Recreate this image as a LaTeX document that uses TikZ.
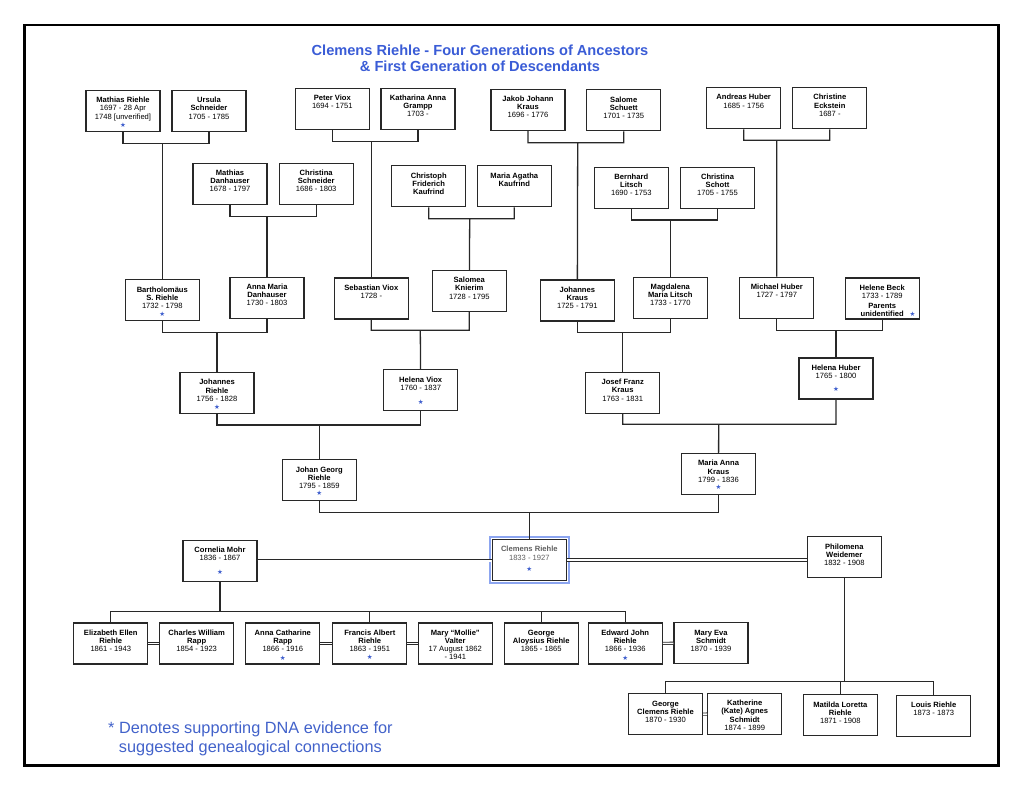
\documentclass[tikz,border=0pt]{standalone}
\usepackage{fontspec}
\setmainfont{Liberation Sans}
\newfontfamily\starfont{DejaVu Sans}
\definecolor{linec}{RGB}{40,40,40}
\definecolor{titleblue}{RGB}{58,92,214}
\definecolor{noteblue}{RGB}{66,98,202}
\definecolor{dnablue}{RGB}{62,94,205}
\definecolor{ringblue}{RGB}{140,165,240}
\definecolor{clemgray}{RGB}{95,95,95}
\newcommand\dna{{\starfont\fontsize{6.5}{6.5}\selectfont\textcolor{dnablue}{★}}}
\newcommand\who[1]{\parbox[c][41pt][t]{74pt}{\centering\rule{0pt}{12.3pt}#1}}
\begin{document}
\begin{tikzpicture}[x=1pt,y=-1pt,
  pbox/.style={draw=linec,line width=1.2pt,inner sep=0pt,font=\fontsize{7.6}{8.2}\selectfont},
  link/.style={draw=linec,line width=1.3pt},
  wed/.style={draw=linec,line width=0.9pt,double=white,double distance=1.4pt}]
  \useasboundingbox (0,0) rectangle (1024,791);
  \draw[line width=2.7pt] (24.7,25) rectangle (998.5,765.5);
  \node[anchor=north,inner sep=0pt,align=center,text=titleblue,font=\fontsize{14.6}{15.7}\selectfont\bfseries] (title) at (480,44.6)
    {Clemens Riehle - Four Generations of Ancestors\\\& First Generation of Descendants};

  \node[pbox] (mr) at (123,111) {\who{\textbf{Mathias Riehle}\\1697 - 28 Apr\\1748 [unverified]\\\dna}};
  \node[pbox] (us) at (209,111) {\who{\textbf{Ursula\\Schneider}\\1705 - 1785}};
  \node[pbox] (pv) at (332.3,108.7) {\who{\textbf{Peter Viox}\\1694 - 1751}};
  \node[pbox] (kg) at (418,108.7) {\who{\textbf{Katharina Anna\\Grampp}\\1703 -}};
  \node[pbox] (jk) at (528,109.7) {\who{\textbf{Jakob Johann\\Kraus}\\1696 - 1776}};
  \node[pbox] (ss) at (623.7,110.3) {\who{\textbf{Salome\\Schuett}\\1701 - 1735}};
  \node[pbox] (ah) at (743.7,108.2) {\who{\textbf{Andreas Huber}\\1685 - 1756}};
  \node[pbox] (ce) at (829.8,108.2) {\who{\textbf{Christine\\Eckstein}\\1687 -}};

  \node[pbox] (md) at (230,183.8) {\who{\textbf{Mathias\\Danhauser}\\1678 - 1797}};
  \node[pbox] (cs) at (316.2,183.8) {\who{\textbf{Christina\\Schneider}\\1686 - 1803}};
  \node[pbox] (ck) at (428.7,186.3) {\who{\textbf{Christoph\\Friderich\\Kaufrind}}};
  \node[pbox] (mk) at (514.3,186.3) {\who{\textbf{Maria Agatha\\Kaufrind}}};
  \node[pbox] (bl) at (631.3,187.7) {\who{\textbf{Bernhard\\Litsch}\\1690 - 1753}};
  \node[pbox] (cst) at (717.5,187.7) {\who{\textbf{Christina\\Schott}\\1705 - 1755}};

  \node[pbox] (bsr) at (162.3,300.2) {\who{\textbf{Bartholomäus\\S. Riehle}\\1732 - 1798\\\dna}};
  \node[pbox] (amd) at (267,297.7) {\who{\textbf{Anna Maria\\Danhauser}\\1730 - 1803}};
  \node[pbox] (sv) at (371.3,298.5) {\who{\textbf{Sebastian Viox}\\1728 -}};
  \node[pbox] (sk) at (469.3,291) {\who{\textbf{Salomea\\Knierim}\\1728 - 1795}};
  \node[pbox] (jok) at (577.3,300.5) {\who{\textbf{Johannes\\Kraus}\\1725 - 1791}};
  \node[pbox] (mml) at (670.3,297.7) {\who{\textbf{Magdalena\\Maria Litsch}\\1733 - 1770}};
  \node[pbox] (mh) at (776.8,297.7) {\who{\textbf{Michael Huber}\\1727 - 1797}};
  \node[pbox] (hb) at (882.2,298.5) {\who{\textbf{Helene Beck}\\1733 - 1789\\[1.5pt]\textbf{Parents\\unidentified}\rlap{\hspace{6pt}\dna}}};

  \node[pbox] (jr) at (217,393) {\who{\textbf{Johannes\\Riehle}\\1756 - 1828\\\dna}};
  \node[pbox] (hv) at (420.7,390.2) {\who{\textbf{Helena Viox}\\1760 - 1837\\[5.8pt]\dna}};
  \node[pbox] (jfk) at (622.7,392.8) {\who{\textbf{Josef Franz\\Kraus}\\1763 - 1831}};
  \node[pbox] (hh) at (836,378.5) {\who{\textbf{Helena Huber}\\1765 - 1800\\[5.2pt]\dna}};

  \node[pbox] (jgr) at (319.3,480.3) {\who{\textbf{Johan Georg\\Riehle}\\1795 - 1859\\[-1.5pt]\dna}};
  \node[pbox] (mak) at (718.5,474) {\who{\textbf{Maria Anna\\Kraus}\\1799 - 1836\\[-0.6pt]\dna}};

  \node[pbox] (cm) at (220,560.8) {\who{\textbf{Cornelia Mohr}\\1836 - 1867\\[5.8pt]\dna}};
  \node[pbox,text=clemgray] (cr) at (529.3,560) {\who{\textbf{Clemens Riehle}\\1833 - 1927\\[3pt]\dna}};
  \node[pbox] (pw) at (844.3,557.2) {\who{\textbf{Philomena\\Weidemer}\\1832 - 1908}};
  \draw[ringblue,line width=1.6pt] ([shift={(-1.8,-1.8)}]cr.north west) rectangle ([shift={(1.8,1.8)}]cr.south east);

  \node[pbox] (eer) at (110.8,643.5) {\who{\textbf{Elizabeth Ellen\\Riehle}\\1861 - 1943}};
  \node[pbox] (cwr) at (196.7,643.5) {\who{\textbf{Charles William\\Rapp}\\1854 - 1923}};
  \node[pbox] (acr) at (282.8,643.5) {\who{\textbf{Anna Catharine\\Rapp}\\1866 - 1916\\[1pt]\dna}};
  \node[pbox] (far) at (369.8,643.5) {\who{\textbf{Francis Albert\\Riehle}\\1863 - 1951\\\dna}};
  \node[pbox] (mmv) at (455.3,643.5) {\who{\textbf{Mary “Mollie”\\Valter}\\17 August 1862\\- 1941}};
  \node[pbox] (gar) at (541.2,643.5) {\who{\textbf{George\\Aloysius Riehle}\\1865 - 1865}};
  \node[pbox] (ejr) at (625.2,643.5) {\who{\textbf{Edward John\\Riehle}\\1866 - 1936\\[1pt]\dna}};
  \node[pbox] (mes) at (711,643.2) {\who{\textbf{Mary Eva\\Schmidt}\\1870 - 1939}};

  \node[pbox] (gcr) at (665.5,714.3) {\who{\textbf{George\\Clemens Riehle}\\1870 - 1930}};
  \node[pbox] (kas) at (744.7,713.9) {\who{\textbf{Katherine\\(Kate) Agnes\\Schmidt}\\1874 - 1899}};
  \node[pbox] (mlr) at (840.3,715.3) {\who{\textbf{Matilda Loretta\\Riehle}\\1871 - 1908}};
  \node[pbox] (lr) at (933.7,715.7) {\who{\textbf{Louis Riehle}\\1873 - 1873}};

  \coordinate (j1) at (162.3,143.3);
  \coordinate (j2) at (371.3,141.3);
  \coordinate (j3) at (577.7,142.7);
  \coordinate (j4) at (776.7,140.3);
  \coordinate (j5) at (267,216.3);
  \coordinate (j6) at (469.7,218.7);
  \coordinate (j7) at (670.3,220);
  \coordinate (j8) at (217,332.3);
  \coordinate (j9) at (420.3,330.3);
  \coordinate (j10) at (622.7,332.7);
  \coordinate (j11) at (836,330.3);
  \coordinate (j12) at (319.3,425);
  \coordinate (j13) at (718.7,424.3);
  \coordinate (j14) at (529.3,512.3);
  \coordinate (k1) at (220,611.3);
  \coordinate (k2) at (844.3,681.7);

  \draw[link] (mr) |- (j1) -| (us) (j1) -- (bsr);
  \draw[link] (pv) |- (j2) -| (kg) (j2) -- (sv);
  \draw[link] (jk) |- (j3) -| (ss) (j3) -- (jok);
  \draw[link] (ah) |- (j4) -| (ce) (j4) -- (mh);
  \draw[link] (md) |- (j5) -| (cs) (j5) -- (amd);
  \draw[link] (ck) |- (j6) -| (mk) (j6) -- (sk);
  \draw[link] (bl) |- (j7) -| (cst) (j7) -- (mml);
  \draw[link] (bsr) |- (j8) -| (amd) (j8) -- (jr);
  \draw[link] (sv) |- (j9) -| (sk) (j9) -- (hv);
  \draw[link] (jok) |- (j10) -| (mml) (j10) -- (jfk);
  \draw[link] (mh) |- (j11) -| (hb) (j11) -- (hh);
  \draw[link] (jr) |- (j12) -| (hv) (j12) -- (jgr);
  \draw[link] (jfk) |- (j13) -| (hh) (j13) -- (mak);
  \draw[link] (jgr) |- (j14) -| (mak) (j14) -- (cr);

  \draw[link] (cm) -- (k1) (eer) |- (k1) -| (ejr);
  \draw[link] (far) -- (far |- k1) (gar) -- (gar |- k1);
  \draw[link] (pw) -- (k2) (gcr) |- (k2) -| (lr);
  \draw[link] (mlr) -- (mlr |- k2);

  \draw[wed] (cm.east) -- (cm.east -| cr.west);
  \draw[wed] (cr.east) -- (cr.east -| pw.west);
  \draw[wed] (eer) -- (cwr);
  \draw[wed] (acr) -- (far);
  \draw[wed] (far) -- (mmv);
  \draw[wed] (ejr) -- (mes);
  \draw[wed] (gcr) -- (kas);

  \node[anchor=north,inner sep=0pt,align=center,text=noteblue,font=\fontsize{16.3}{18.4}\selectfont] (note) at (250.4,721.6)
    {* Denotes supporting DNA evidence for\\suggested genealogical connections};
\end{tikzpicture}
\end{document}
